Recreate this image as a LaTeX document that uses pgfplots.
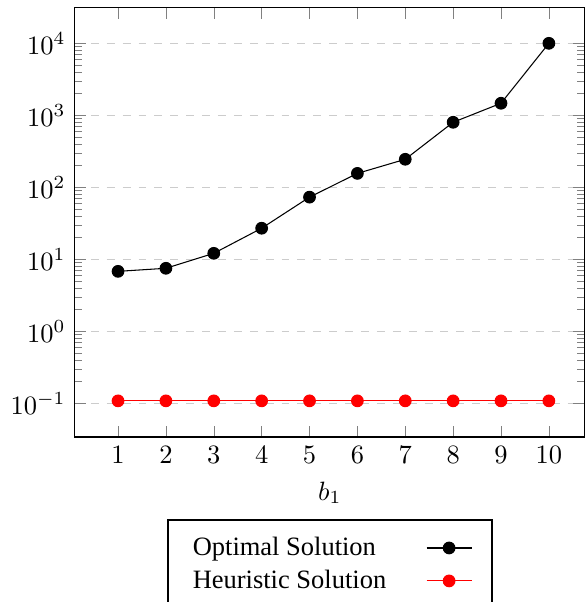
\documentclass[border=0pt]{standalone}
\usepackage{fontspec}
\newfontfamily\legendfont{Liberation Serif}
\usepackage{pgfplots}
\pgfplotsset{compat=1.18}
\usetikzlibrary{calc}
\begin{document}
\begin{tikzpicture}
\begin{axis}[
 scale only axis,width=192.5pt,height=162pt,
 ymode=log,
 xmin=0.1,xmax=10.75,
 ymin=0.034,ymax=31000,
 xtick={1,...,10},
 ytick={0.1,1,10,100,1000,10000},
 xlabel={$b_1$},
 ymajorgrids,major grid style={dashed,gray!40},
 tick style={gray},
 legend style={at={(0.5,-0.19)},anchor=north,draw=black,line width=0.8pt,
   font=\legendfont,inner xsep=7.5pt,inner ysep=4.5pt,
   /tikz/column 1/.style={column sep=13pt}},
 legend cell align=left,legend plot pos=right,
 legend image code/.code={\draw[mark repeat=2,mark phase=2,line width=0.4pt]
   plot coordinates {(0cm,0cm)(0.3cm,0cm)(0.6cm,0cm)};},
]
\addplot[black,mark=*,mark size=2.2pt] coordinates {
 (1,6.8) (2,7.5) (3,12.1) (4,27) (5,73) (6,156) (7,245) (8,800) (9,1470) (10,10000)
};
\addlegendentry{Optimal Solution}
\addplot[red,mark=*,mark size=2.2pt] coordinates {
 (1,0.108) (2,0.108) (3,0.108) (4,0.108) (5,0.108) (6,0.108) (7,0.108) (8,0.108) (9,0.108) (10,0.108)
};
\addlegendentry{Heuristic Solution}
\end{axis}
\pgfresetboundingbox
\path[use as bounding box] ($(current axis.south west)+(-28.3pt,-62.3pt)$) rectangle ($(current axis.north east)+(0.75pt,3pt)$);
\end{tikzpicture}
\end{document}
